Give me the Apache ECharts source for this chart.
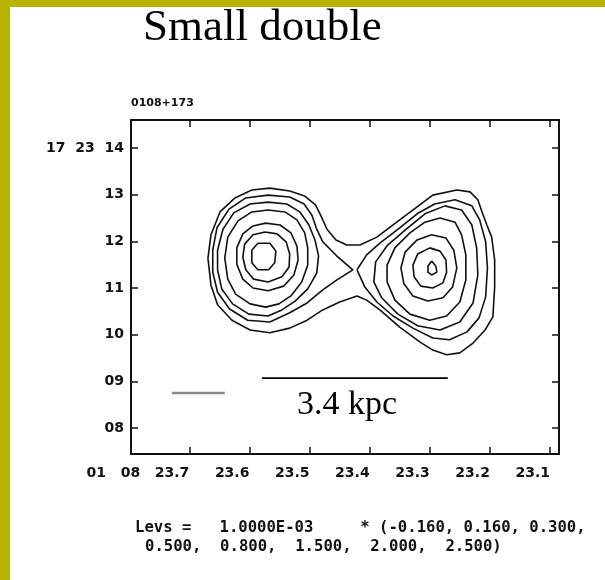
<!DOCTYPE html>
<html>
<head>
<meta charset="utf-8">
<script src="https://cdn.jsdelivr.net/npm/echarts@6/dist/echarts.min.js"></script>
<style>
html,body{margin:0;padding:0;background:#fff}
#c{width:605px;height:580px}
</style>
</head>
<body>
<div id="c"></div>
<script>
// Axis ticks: right ascension seconds (01h08m) and declination arcsec (+17d23')
const raTicks = [23.7, 23.6, 23.5, 23.4, 23.3, 23.2, 23.1];
const decTicks = [8, 9, 10, 11, 12, 13, 14];

// Contour levels (x 1.0E-03)
const levels = [-0.16, 0.16, 0.30, 0.50, 0.80, 1.50, 2.00, 2.50];

// Contour paths, [RA s, Dec arcsec]
// 0.16 envelope around both components
const c016 = [[23.566,13.14],[23.533,13.08],[23.508,12.97],[23.490,12.78],[23.480,12.52],[23.471,12.26],[23.456,12.03],[23.438,11.92],[23.416,11.92],[23.388,12.09],[23.350,12.46],[23.321,12.74],[23.295,12.99],[23.255,13.10],[23.233,13.06],[23.220,12.89],[23.213,12.63],[23.205,12.35],[23.197,12.09],[23.192,11.60],[23.192,11.02],[23.195,10.38],[23.208,10.10],[23.228,9.82],[23.250,9.61],[23.272,9.57],[23.295,9.67],[23.316,9.84],[23.350,10.16],[23.383,10.53],[23.405,10.74],[23.421,10.83],[23.450,10.70],[23.478,10.53],[23.504,10.31],[23.533,10.14],[23.566,10.04],[23.599,10.10],[23.629,10.31],[23.653,10.64],[23.664,11.06],[23.669,11.64],[23.664,12.14],[23.649,12.63],[23.624,12.93],[23.596,13.10]];

// east component
const e030 = [[23.569,12.99],[23.533,12.95],[23.509,12.80],[23.496,12.56],[23.488,12.26],[23.478,11.99],[23.455,11.69],[23.428,11.39],[23.455,11.17],[23.478,10.96],[23.504,10.68],[23.533,10.47],[23.566,10.27],[23.603,10.31],[23.633,10.55],[23.653,10.91],[23.661,11.34],[23.661,11.81],[23.654,12.29],[23.634,12.69],[23.606,12.93]];
const e050 = [[23.569,12.84],[23.538,12.80],[23.516,12.63],[23.501,12.35],[23.491,12.03],[23.485,11.69],[23.488,11.32],[23.503,10.98],[23.524,10.72],[23.546,10.53],[23.569,10.40],[23.601,10.44],[23.628,10.66],[23.646,10.98],[23.653,11.39],[23.653,11.81],[23.644,12.26],[23.626,12.61],[23.599,12.80]];
const e080 = [[23.569,12.67],[23.541,12.63],[23.521,12.46],[23.508,12.18],[23.503,11.86],[23.503,11.49],[23.513,11.13],[23.531,10.83],[23.551,10.66],[23.573,10.59],[23.599,10.66],[23.623,10.87],[23.636,11.19],[23.641,11.64],[23.636,12.09],[23.619,12.44],[23.596,12.63]];
const e150 = [[23.573,12.39],[23.549,12.35],[23.531,12.18],[23.521,11.90],[23.519,11.60],[23.526,11.28],[23.543,11.04],[23.569,10.94],[23.594,11.00],[23.611,11.19],[23.621,11.51],[23.621,11.86],[23.611,12.16],[23.594,12.33]];
const e200 = [[23.574,12.20],[23.554,12.16],[23.539,11.99],[23.533,11.73],[23.534,11.45],[23.546,11.24],[23.569,11.13],[23.593,11.19],[23.606,11.39],[23.611,11.66],[23.608,11.94],[23.594,12.14]];
const e250 = [[23.586,11.96],[23.566,11.96],[23.556,11.79],[23.558,11.54],[23.568,11.39],[23.586,11.39],[23.596,11.54],[23.596,11.81]];

// west component
const w030 = [[23.421,11.39],[23.405,11.71],[23.383,11.96],[23.350,12.29],[23.321,12.59],[23.292,12.80],[23.258,12.89],[23.230,12.76],[23.217,12.46],[23.207,11.99],[23.204,11.43],[23.207,10.81],[23.218,10.36],[23.238,10.06],[23.267,9.89],[23.295,9.93],[23.328,10.14],[23.361,10.40],[23.388,10.70],[23.408,11.02]];
const w050 = [[23.275,12.76],[23.247,12.67],[23.230,12.35],[23.222,11.86],[23.220,11.28],[23.228,10.68],[23.250,10.27],[23.283,10.10],[23.320,10.19],[23.353,10.44],[23.380,10.79],[23.393,11.13],[23.390,11.56],[23.370,11.92],[23.341,12.24],[23.308,12.59]];
const w080 = [[23.283,12.50],[23.258,12.41],[23.247,12.14],[23.240,11.71],[23.240,11.17],[23.250,10.70],[23.272,10.40],[23.300,10.31],[23.333,10.44],[23.358,10.74],[23.371,11.13],[23.371,11.49],[23.358,11.86],[23.333,12.18],[23.308,12.41]];
const w150 = [[23.297,12.14],[23.273,12.07],[23.260,11.81],[23.255,11.43],[23.262,11.02],[23.278,10.79],[23.303,10.72],[23.328,10.83],[23.343,11.09],[23.348,11.43],[23.341,11.77],[23.321,12.03]];
const w200 = [[23.300,11.86],[23.283,11.79],[23.273,11.60],[23.272,11.34],[23.278,11.11],[23.295,11.00],[23.315,11.04],[23.326,11.24],[23.328,11.49],[23.320,11.73]];
const w250 = [[23.297,11.58],[23.290,11.47],[23.288,11.34],[23.297,11.28],[23.303,11.34],[23.303,11.47]];

// beam bar and linear scale bar
const beamBar = [[23.729, 8.75], [23.641, 8.75]];
const scaleBar = [[23.579, 9.07], [23.270, 9.07]];
const scaleText = '3.4 kpc';

// level list as printed under the map
const levsLine1 = 'Levs =   1.0000E-03     * (-0.160, 0.160, 0.300,';
const levsLine2 = '0.500,  0.800,  1.500,  2.000,  2.500)';

const contours = [c016, e030, e050, e080, e150, e200, e250, w030, w050, w080, w150, w200, w250];

const labelFont = { fontFamily: '"DejaVu Sans"', fontWeight: 'bold', fontSize: 14, color: '#111' };

function raLabel(v) {
  const s = v.toFixed(1);
  return Math.abs(v - 23.7) < 1e-6 ? '01   08   ' + s : s;
}
function decLabel(v) {
  const n = Math.round(v);
  const s = String(n).padStart(2, '0');
  return n === 14 ? '17  23  ' + s : s;
}

const closed = pts => pts.concat([pts[0]]);

const series = contours.map(pts => ({
  type: 'line',
  data: closed(pts),
  symbol: 'none',
  smooth: false,
  silent: true,
  lineStyle: { color: '#111', width: 1.6 }
}));
series.push({
  type: 'line', data: beamBar, symbol: 'none', silent: true,
  lineStyle: { color: '#8a8a8a', width: 2.5 }
});
series.push({
  type: 'line', data: scaleBar, symbol: 'none', silent: true,
  lineStyle: { color: '#000', width: 1.8 }
});

const axisLine = { show: true, lineStyle: { color: '#111', width: 2 } };
const tick = vals => ({ show: true, inside: true, length: 7, customValues: vals, lineStyle: { color: '#111', width: 1.5 } });

const monoFont = { fontFamily: '"DejaVu Sans Mono"', fontWeight: 'bold', fontSize: 15.6, fill: '#111', verticalAlign: 'top' };

const chart = echarts.init(document.getElementById('c'), null, { renderer: 'canvas' });
chart.setOption({
  animation: false,
  backgroundColor: '#fff',
  grid: { left: 131, top: 120, width: 428, height: 334, containLabel: false },
  xAxis: [
    { type: 'value', min: 23.085, max: 23.797, inverse: true, position: 'bottom',
      axisLine, axisTick: tick(raTicks), splitLine: { show: false },
      axisLabel: Object.assign({ customValues: raTicks, formatter: raLabel, align: 'right', margin: 12 }, labelFont) },
    { type: 'value', min: 23.085, max: 23.797, inverse: true, position: 'top',
      axisLine, axisTick: tick(raTicks), splitLine: { show: false }, axisLabel: { show: false } }
  ],
  yAxis: [
    { type: 'value', min: 7.443, max: 14.6, position: 'left',
      axisLine, axisTick: tick(decTicks), splitLine: { show: false },
      axisLabel: Object.assign({ customValues: decTicks, formatter: decLabel, margin: 7 }, labelFont) },
    { type: 'value', min: 7.443, max: 14.6, position: 'right',
      axisLine, axisTick: tick(decTicks), splitLine: { show: false }, axisLabel: { show: false } }
  ],
  series,
  graphic: [
    { type: 'rect', shape: { x: 0, y: 0, width: 10, height: 580 }, style: { fill: '#b8b300' }, silent: true },
    { type: 'rect', shape: { x: 0, y: 0, width: 605, height: 7 }, style: { fill: '#b8b300' }, silent: true },
    { type: 'text', x: 143, y: 6, style: { text: 'Small double', fontFamily: '"Liberation Serif"', fontSize: 45, fill: '#000', verticalAlign: 'top' } },
    { type: 'text', x: 131, y: 98, style: { text: '0108+173', fontFamily: '"DejaVu Sans"', fontWeight: 'bold', fontSize: 11, fill: '#111', verticalAlign: 'top' } },
    { type: 'text', x: 297, y: 388, style: { text: scaleText, fontFamily: '"Liberation Serif"', fontSize: 34, fill: '#000', verticalAlign: 'top' } },
    { type: 'text', x: 135, y: 520, style: Object.assign({ text: levsLine1 }, monoFont) },
    { type: 'text', x: 145, y: 539, style: Object.assign({ text: levsLine2 }, monoFont) }
  ]
});
</script>
</body>
</html>
